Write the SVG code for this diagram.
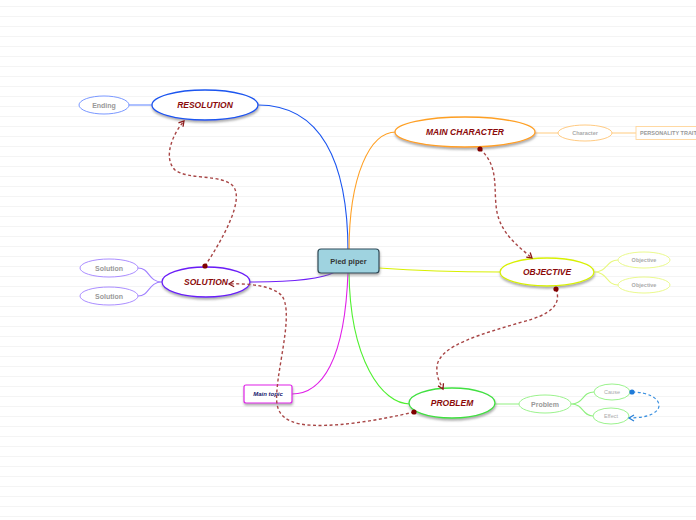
<svg xmlns="http://www.w3.org/2000/svg" width="696" height="520" viewBox="0 0 696 520">
<defs>
<style>
.bg{stroke:#f4f4f4;stroke-width:1}
.main{fill:#fff;stroke-width:1.3}
.sub{fill:#fff;stroke-width:0.9}
.mt{font-family:"Liberation Sans",Arial,sans-serif;font-size:8.5px;font-weight:bold;font-style:italic;fill:#8b0a0a;text-anchor:middle}
.st{font-family:"Liberation Sans",Arial,sans-serif;font-size:7px;font-weight:bold;fill:#999;text-anchor:middle}
.sst{font-family:"Liberation Sans",Arial,sans-serif;font-size:5.5px;fill:#aaa;text-anchor:middle}
.br{fill:none;stroke-width:1.1}
.rel{fill:none;stroke:#a84646;stroke-width:1.4;stroke-dasharray:3 2.5}
</style>
<filter id="sh" x="-20%" y="-30%" width="140%" height="180%">
<feDropShadow dx="0.5" dy="2" stdDeviation="1" flood-color="#777" flood-opacity="0.6"/>
</filter>
<marker id="arr" markerWidth="8" markerHeight="8" refX="6" refY="4" orient="auto" markerUnits="userSpaceOnUse">
<polyline points="1,1 6,4 1,7" fill="none" stroke="#8b1a1a" stroke-width="1.3"/>
</marker>
<marker id="dot" markerWidth="6" markerHeight="6" refX="3" refY="3" markerUnits="userSpaceOnUse">
<circle cx="3" cy="3" r="2.6" fill="#800000"/>
</marker>
<marker id="arrb" markerWidth="8" markerHeight="8" refX="6" refY="4" orient="auto" markerUnits="userSpaceOnUse">
<polyline points="1,1 6,4 1,7" fill="none" stroke="#2a80d8" stroke-width="1.3"/>
</marker>
<marker id="dotb" markerWidth="6" markerHeight="6" refX="3" refY="3" markerUnits="userSpaceOnUse">
<circle cx="3" cy="3" r="2.6" fill="#1f7ad8"/>
</marker>
</defs>
<rect width="696" height="520" fill="#fff"/>
<g id="background">
<path class="bg" d="M0,6.5H696M0,16.5H696M0,26.5H696M0,36.5H696M0,46.5H696M0,56.5H696M0,66.5H696M0,76.5H696M0,86.5H696M0,96.5H696M0,106.5H696M0,116.5H696M0,126.5H696M0,136.5H696M0,146.5H696M0,156.5H696M0,166.5H696M0,176.5H696M0,186.5H696M0,196.5H696M0,206.5H696M0,216.5H696M0,226.5H696M0,236.5H696M0,246.5H696M0,256.5H696M0,266.5H696M0,276.5H696M0,286.5H696M0,296.5H696M0,306.5H696M0,316.5H696M0,326.5H696M0,336.5H696M0,346.5H696M0,356.5H696M0,366.5H696M0,376.5H696M0,386.5H696M0,396.5H696M0,406.5H696M0,416.5H696M0,426.5H696M0,436.5H696M0,446.5H696M0,456.5H696M0,466.5H696M0,476.5H696M0,486.5H696M0,496.5H696M0,506.5H696M0,516.5H696"/>
</g>
<g id="connectors">
<path class="br" stroke="#1a55f0" d="M348,252 C348,160 320,105 258,105"/>
<path class="br" stroke="#ffa024" d="M349,252 C349,175 370,132 396,132"/>
<path class="br" stroke="#d8f000" d="M379,268 C420,271 460,272 500,272"/>
<path class="br" stroke="#7020f8" d="M335,272 C320,280 285,282 250,282"/>
<path class="br" stroke="#50f030" d="M349,272 C350,360 382,404 410,404"/>
<path class="br" stroke="#e020e8" d="M348,272 C345,360 322,394 292,394"/>
<path class="br" stroke="#6b8cff" stroke-width="0.8" d="M129,105 H152"/>
<path class="br" stroke="#ffcc80" stroke-width="0.8" d="M535,133 H558 M612,133 H636"/>
<path class="br" stroke="#e8f880" stroke-width="0.8" d="M594,272 C608,272 606,260 618,260 M594,272 C608,272 606,285 618,285"/>
<path class="br" stroke="#a080ff" stroke-width="0.8" d="M162,282 C148,282 150,268 138,268 M162,282 C148,282 150,296 138,296"/>
<path class="br" stroke="#90f080" stroke-width="0.8" d="M495,404 H519 M571,404 C584,404 582,392 594,392 M571,404 C584,404 582,416 593,416"/>
</g>
<g id="center">
<rect x="318" y="249" width="61" height="24" rx="3" fill="#9fd3e0" stroke="#2d4a58" stroke-width="1.2" filter="url(#sh)"/>
<text x="348.5" y="264" font-family="'Liberation Sans',Arial,sans-serif" font-size="7.5" font-weight="bold" fill="#333" text-anchor="middle">Pied piper</text>
</g>
<g id="resolution">
<ellipse class="main" cx="205" cy="105" rx="53" ry="15" stroke="#1a55f0" filter="url(#sh)"/>
<text class="mt" x="205" y="108">RESOLUTION</text>
</g>
<g id="ending">
<ellipse class="sub" cx="104" cy="105" rx="25" ry="9" stroke="#6b8cff"/>
<text class="st" x="104" y="107.5">Ending</text>
</g>
<g id="main-character">
<ellipse class="main" cx="465" cy="132" rx="70" ry="15" stroke="#ffa024" filter="url(#sh)"/>
<text class="mt" x="465" y="135">MAIN CHARACTER</text>
</g>
<g id="character">
<ellipse class="sub" cx="585" cy="133" rx="27" ry="8" stroke="#ffc474"/>
<text class="sst" x="585" y="135" font-weight="bold">Character</text>
</g>
<g id="personality">
<rect x="636" y="126.5" width="72" height="13" fill="#fff" stroke="#ffd69a" stroke-width="0.9"/>
<text x="640" y="135" font-family="'Liberation Sans',Arial,sans-serif" font-size="5.5" font-weight="bold" fill="#999">PERSONALITY TRAITS</text>
</g>
<g id="objective">
<ellipse class="main" cx="547" cy="272" rx="47" ry="14" stroke="#d8f000" filter="url(#sh)"/>
<text class="mt" x="547" y="275">OBJECTIVE</text>
</g>
<g id="objective-1">
<ellipse class="sub" cx="644" cy="260" rx="26" ry="8" stroke="#e8f880"/>
<text class="sst" x="644" y="262" font-weight="bold">Objective</text>
</g>
<g id="objective-2">
<ellipse class="sub" cx="644" cy="285" rx="26" ry="8" stroke="#e8f880"/>
<text class="sst" x="644" y="287" font-weight="bold">Objective</text>
</g>
<g id="solution">
<ellipse class="main" cx="206" cy="282" rx="44" ry="15" stroke="#6a1af8" filter="url(#sh)"/>
<text class="mt" x="206" y="285">SOLUTION</text>
</g>
<g id="solution-1">
<ellipse class="sub" cx="109" cy="268" rx="29" ry="9" stroke="#a080ff"/>
<text class="st" x="109" y="270.5">Solution</text>
</g>
<g id="solution-2">
<ellipse class="sub" cx="109" cy="296" rx="29" ry="9" stroke="#a080ff"/>
<text class="st" x="109" y="298.5">Solution</text>
</g>
<g id="problem">
<ellipse class="main" cx="452" cy="403" rx="43" ry="15" stroke="#40e040" filter="url(#sh)"/>
<text class="mt" x="452" y="406">PROBLEM</text>
</g>
<g id="problem-sub">
<ellipse class="sub" cx="545" cy="404" rx="26" ry="9" stroke="#90f080"/>
<text class="st" x="545" y="406.5" font-size="6.5">Problem</text>
</g>
<g id="cause">
<ellipse class="sub" cx="612" cy="392" rx="18" ry="8" stroke="#90f080"/>
<text class="sst" x="612" y="394">Cause</text>
</g>
<g id="effect">
<ellipse class="sub" cx="611" cy="416" rx="18" ry="8" stroke="#90f080"/>
<text class="sst" x="611" y="418">Effect</text>
</g>
<g id="main-topic">
<rect x="244" y="385" width="48" height="18" rx="2" fill="#fff" stroke="#e020e8" stroke-width="1.2" filter="url(#sh)"/>
<text x="268" y="396" font-family="'Liberation Sans',Arial,sans-serif" font-size="6" font-weight="bold" font-style="italic" fill="#1a1a6e" text-anchor="middle">Main topic</text>
</g>
<g id="relationships">
<path class="rel" marker-start="url(#dot)" marker-end="url(#arr)" d="M205,266 C222,240 245,200 233,186 C222,174 188,180 175,170 C163,158 172,135 184,121"/>
<path class="rel" marker-start="url(#dot)" marker-end="url(#arr)" d="M480,149 C498,165 494,185 496,205 C498,232 518,246 532,258"/>
<path class="rel" marker-start="url(#dot)" marker-end="url(#arr)" d="M556,289 C562,305 550,315 522,322 C482,334 440,345 437,366 C436,377 440,383 443,389"/>
<path class="rel" marker-start="url(#dot)" marker-end="url(#arr)" d="M414,412 C380,420 330,429 300,424 C272,418 276,400 278,380 C282,350 292,310 282,296 C274,286 248,283 229,284"/>
<path fill="none" stroke="#3a90e0" stroke-width="1.2" stroke-dasharray="3 2.5" marker-start="url(#dotb)" marker-end="url(#arrb)" d="M632,392 C665,392 672,418 629,418"/>
</g>
</svg>
